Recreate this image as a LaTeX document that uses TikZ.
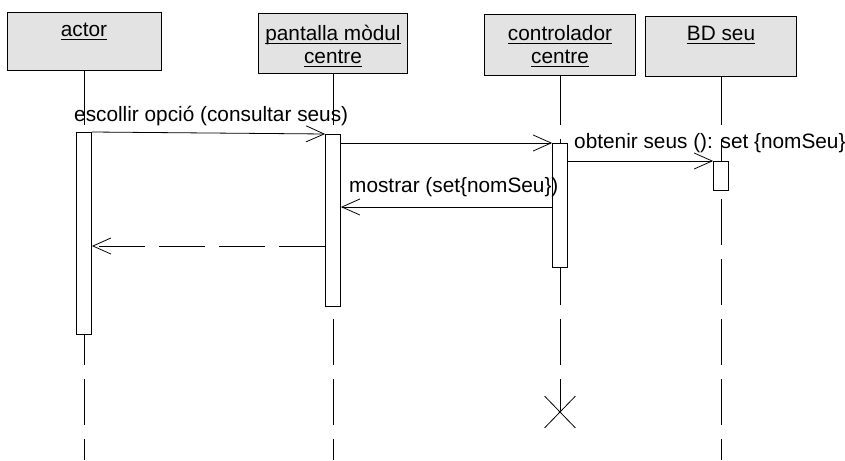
\documentclass[tikz,border=0pt]{standalone}
\usepackage{fontspec}
\setmainfont{Liberation Sans}
\usetikzlibrary{arrows.meta, positioning, shapes.misc}

% underlined object name
\newsavebox{\ulbox}
\newcommand{\uln}[1]{\sbox{\ulbox}{#1}\makebox[0pt][l]{\usebox{\ulbox}}\rule[-3.6pt]{\wd\ulbox}{1.2pt}}

\begin{document}
\begin{tikzpicture}[
    x=1pt, y=-1pt,
    font=\fontsize{20.8}{23}\selectfont,
    objbox/.style={draw, line width=1pt, fill=black!11, minimum width=151pt, minimum height=59pt, inner sep=0pt},
    objlbl/.style={align=center, inner sep=0pt, anchor=base},
    lifeline/.style={line width=0.8pt},
    actbar/.style={draw, line width=0.8pt, fill=white, minimum width=15pt, inner sep=0pt, anchor=north},
    msg/.style={line width=0.8pt, -{Straight Barb[length=18pt, width=16pt]}},
    reply/.style={msg, dash pattern=on 46pt off 14pt},
    msglbl/.style={anchor=base west, inner sep=0pt}
  ]
  \useasboundingbox (0,0) rectangle (845,460);

  % objects
  \node[objbox, minimum width=154pt, minimum height=57pt] (actor) at (84,41.5) {};
  \node[objbox, minimum width=149pt] (pant) at (333,43.5) {};
  \node[objbox, minimum height=60pt] (ctrl) at (560,45) {};
  \node[objbox] (bd) at (721,46.5) {};
  \node[objlbl, yshift=-24pt] (actorlbl) at (actor.north) {\uln{actor}};
  \node[objlbl, yshift=-50pt] (pantlbl) at (pant.north) {\uln{pantalla mòdul}\\\uln{centre}};
  \node[objlbl, yshift=-49pt] (ctrllbl) at (ctrl.north) {\uln{controlador}\\\uln{centre}};
  \node[objlbl, yshift=-24pt] (bdlbl) at (bd.north) {\uln{BD seu}};

  % lifelines
  \coordinate (gaptop) at (0,125);
  \coordinate (gapbot) at (0,139);
  \coordinate (bottom) at (0,460);
  \node[cross out, draw, line width=0.8pt, minimum width=30pt, minimum height=31pt, inner sep=0pt] (kill) at (560,412) {};
  \foreach \o in {actor, pant, ctrl, bd}
    \draw[lifeline] (\o.south) -- (\o.south |- gaptop);
  \foreach \o in {actor, pant, bd}
    \draw[lifeline, dash pattern=on 46pt off 14pt] (\o.south |- gapbot) -- (\o.south |- bottom);
  \draw[lifeline, dash pattern=on 46pt off 14pt] (ctrl.south |- gapbot) -- (kill.center);

  % activations
  \node[actbar, minimum height=202pt] (barA) at (84,132) {};
  \node[actbar, minimum height=172pt] (barP) at (333,134) {};
  \node[actbar, minimum height=124pt] (barC) at (560,143) {};
  \node[actbar, minimum height=29pt] (barB) at (721,161) {};

  % messages
  \coordinate (m4) at (0,207);
  \coordinate (m5) at (0,246);
  \draw[msg] (barA.north east) -- (barP.north west);
  \draw[msg] (barP.east |- barC.north) -- (barC.north west);
  \draw[msg] (barC.east |- barB.north) -- (barB.north west);
  \draw[msg] (barC.west |- m4) -- (barP.east |- m4);
  \draw[reply] (barP.west |- m5) -- (barA.east |- m5);

  \node[msglbl] (lbl1) at (74,121) {escollir opció (consultar seus)};
  \node[msglbl] (lbl3) at (574,148) {obtenir seus (): set \{nomSeu\}};
  \node[msglbl] (lbl4) at (349,192) {mostrar (set\{nomSeu\})};
\end{tikzpicture}
\end{document}
